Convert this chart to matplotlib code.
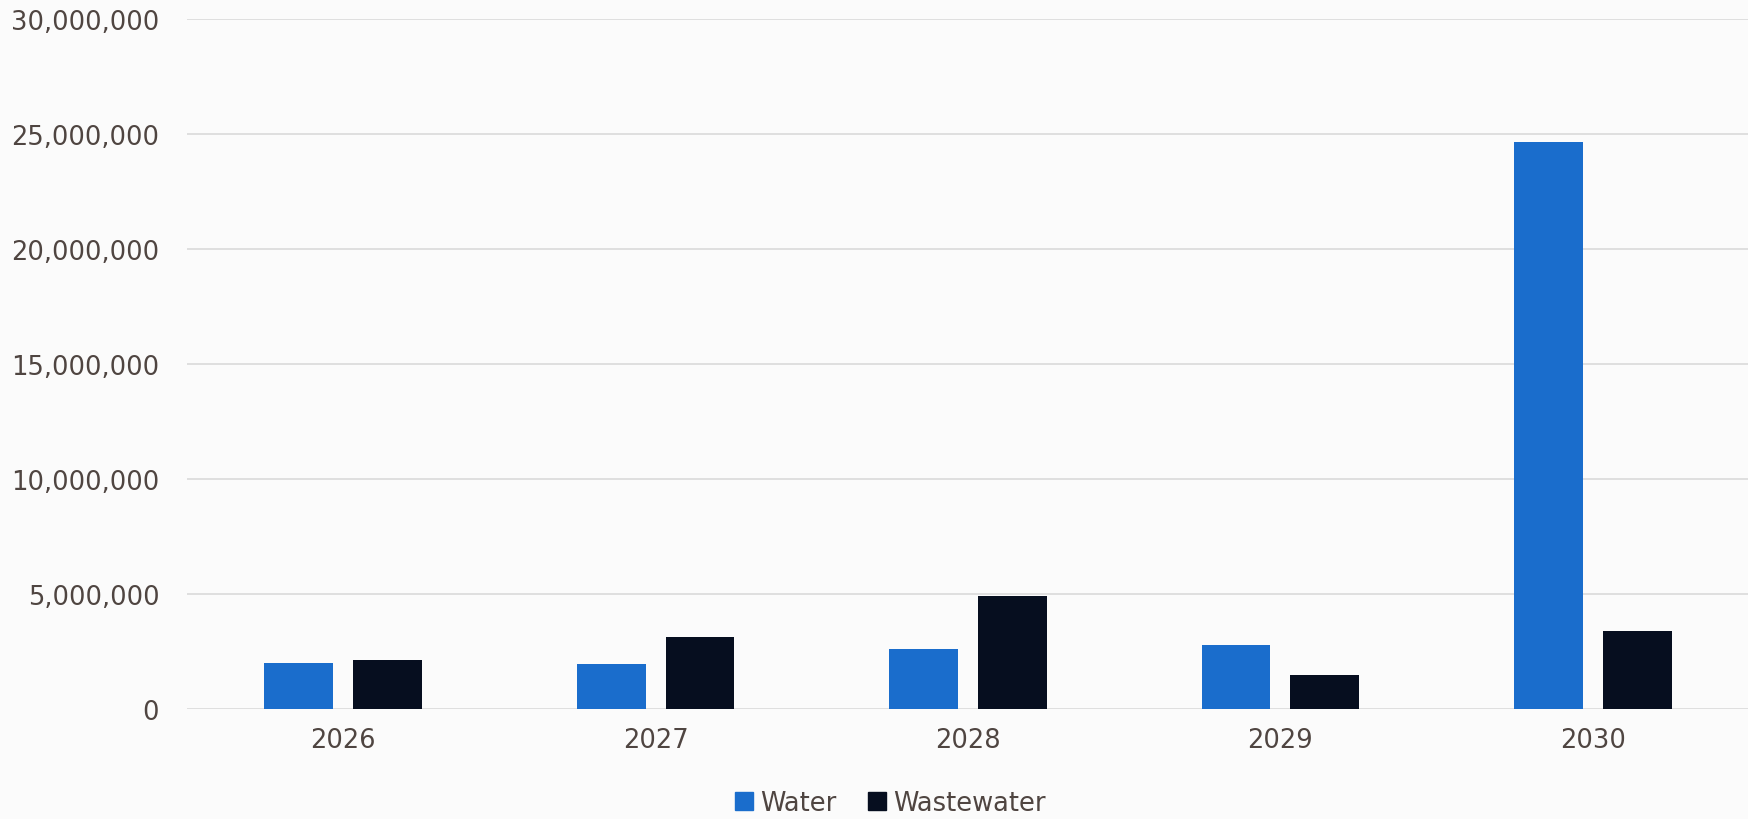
import matplotlib
matplotlib.use("Agg")
import matplotlib.pyplot as plt
from matplotlib.ticker import FuncFormatter
from matplotlib.patches import Patch
import numpy as np

years = ["2026", "2027", "2028", "2029", "2030"]
water = [2010000, 1960000, 2610000, 2800000, 24640000]
wastewater = [2130000, 3130000, 4910000, 1480000, 3400000]

blue = "#1a6dcc"
navy = "#060e1f"
txt = "#4f4541"

plt.rcParams['font.family'] = ['DejaVu Sans']

fig = plt.figure(figsize=(17.49, 8.2), dpi=100, facecolor="#fbfbfb")
ax = fig.add_axes([0.1069, 0.1341, 0.8931, 0.8415])
ax.set_facecolor("#fbfbfb")

x = np.arange(len(years))
w = 0.22
ax.bar(x - 0.142, water, w, color=blue, zorder=3)
ax.bar(x + 0.142, wastewater, w, color=navy, zorder=3)

ax.set_xlim(-0.5, 4.5)
ax.set_ylim(0, 30000000)
ax.set_yticks(np.arange(0, 30000001, 5000000))
ax.yaxis.set_major_formatter(FuncFormatter(lambda v, p: f"{int(v):,}"))
ax.set_xticks(x)
ax.set_xticklabels(years)

ax.grid(axis="y", color="#dcdcdc", linewidth=1.3, zorder=0)
for s in ax.spines.values():
    s.set_visible(False)
ax.tick_params(axis="both", length=0, labelsize=18.5, labelcolor=txt)
ax.tick_params(axis="y", pad=20)
ax.tick_params(axis="x", pad=13)

handles = [Patch(color=blue, label="Water"), Patch(color=navy, label="Wastewater")]
fig.legend(handles=handles, loc="center", bbox_to_anchor=(0.509, 0.02), ncol=2,
           frameon=False, fontsize=18.5, labelcolor=txt, handlelength=0.7,
           handleheight=0.7, handletextpad=0.3, columnspacing=1.2)

fig.savefig("out.png", dpi=100, facecolor=fig.get_facecolor())
